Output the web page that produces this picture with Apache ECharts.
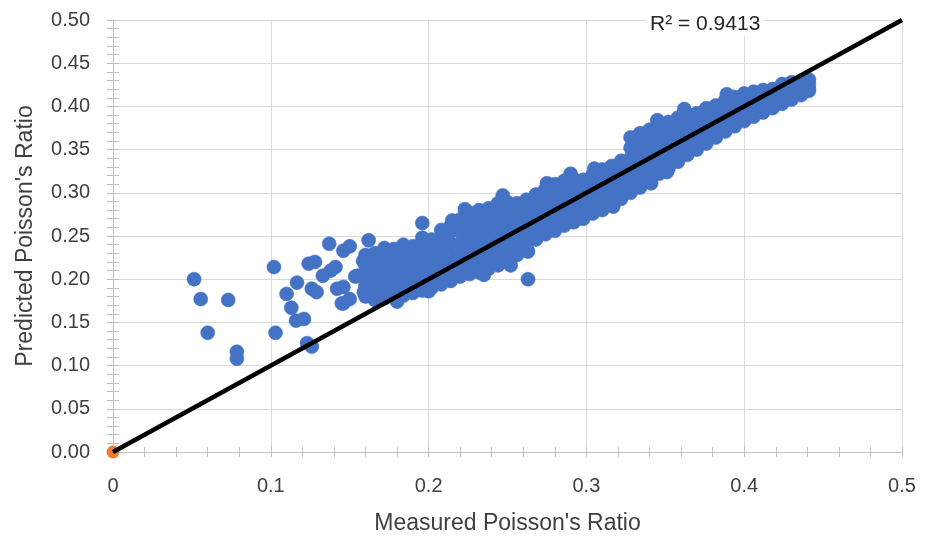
<!DOCTYPE html>
<html>
<head>
<meta charset="utf-8">
<script src="https://cdn.jsdelivr.net/npm/echarts@6/dist/echarts.min.js"></script>
<style>
  html, body { margin: 0; padding: 0; background: #fff; }
  #chart { width: 931px; height: 540px; }
</style>
</head>
<body>
<div id="chart"></div>
<script>
// ---- data ----
const xTickLabels = ['0', '0.1', '0.2', '0.3', '0.4', '0.5'];
const yTickLabels = ['0.00', '0.05', '0.10', '0.15', '0.20', '0.25', '0.30', '0.35', '0.40', '0.45', '0.50'];
const xTitle = "Measured Poisson's Ratio";
const yTitle = "Predicted Poisson's Ratio";
const r2Label = 'R\u00B2 = 0.9413';

// scattered points at the low end of the range and along the band edges
const outlierPoints = [
  [0.0514, 0.200], [0.0556, 0.177], [0.073, 0.176], [0.060, 0.138], [0.0785, 0.116], [0.0785, 0.108],
  [0.102, 0.214], [0.103, 0.138], [0.110, 0.183], [0.113, 0.167], [0.1166, 0.196], [0.116, 0.152],
  [0.121, 0.154], [0.123, 0.126], [0.126, 0.122], [0.124, 0.218], [0.128, 0.220], [0.126, 0.189],
  [0.129, 0.185], [0.133, 0.204], [0.138, 0.210], [0.141, 0.214], [0.137, 0.241], [0.146, 0.233],
  [0.150, 0.238], [0.142, 0.189], [0.146, 0.191], [0.1535, 0.203], [0.146, 0.172], [0.150, 0.177],
  [0.155, 0.204], [0.1585, 0.221], [0.159, 0.185], [0.145, 0.172], [0.162, 0.245], [0.196, 0.265],
  [0.223, 0.281], [0.263, 0.232], [0.263, 0.200],
  [0.215, 0.268], [0.247, 0.297], [0.275, 0.311], [0.290, 0.322], [0.305, 0.328], [0.345, 0.384],
  [0.362, 0.397], [0.389, 0.414], [0.235, 0.205], [0.252, 0.216], [0.317, 0.284], [0.341, 0.311],
  [0.351, 0.324], [0.180, 0.174], [0.200, 0.186]
];

// dense band: measured value with the predicted values read at that column
const bandColumns = [
  [0.160, [0.180, 0.192, 0.204, 0.216, 0.228]],
  [0.166, [0.176, 0.182, 0.194, 0.206, 0.218, 0.230]],
  [0.172, [0.178, 0.190, 0.203, 0.215, 0.227, 0.236]],
  [0.178, [0.180, 0.187, 0.199, 0.211, 0.223, 0.235]],
  [0.184, [0.181, 0.193, 0.206, 0.218, 0.230, 0.240]],
  [0.190, [0.184, 0.190, 0.202, 0.214, 0.226, 0.238]],
  [0.196, [0.187, 0.199, 0.211, 0.223, 0.236, 0.248]],
  [0.202, [0.190, 0.196, 0.208, 0.220, 0.233, 0.246]],
  [0.208, [0.194, 0.206, 0.218, 0.231, 0.244, 0.257]],
  [0.214, [0.198, 0.204, 0.216, 0.229, 0.242, 0.255, 0.262]],
  [0.220, [0.203, 0.215, 0.228, 0.241, 0.255, 0.269]],
  [0.226, [0.206, 0.212, 0.225, 0.238, 0.251, 0.265, 0.277]],
  [0.232, [0.208, 0.221, 0.234, 0.247, 0.261, 0.274, 0.280]],
  [0.238, [0.212, 0.218, 0.231, 0.244, 0.257, 0.270, 0.282]],
  [0.244, [0.216, 0.229, 0.242, 0.255, 0.268, 0.280, 0.288]],
  [0.250, [0.221, 0.227, 0.240, 0.253, 0.265, 0.277, 0.289]],
  [0.256, [0.228, 0.240, 0.252, 0.264, 0.276, 0.288]],
  [0.262, [0.236, 0.242, 0.253, 0.264, 0.275, 0.286, 0.292]],
  [0.268, [0.246, 0.256, 0.266, 0.277, 0.288, 0.298]],
  [0.274, [0.252, 0.257, 0.267, 0.278, 0.289, 0.299, 0.304]],
  [0.280, [0.256, 0.266, 0.277, 0.288, 0.299, 0.310]],
  [0.286, [0.262, 0.267, 0.277, 0.288, 0.299, 0.309, 0.314]],
  [0.292, [0.266, 0.276, 0.287, 0.297, 0.307, 0.316]],
  [0.298, [0.270, 0.276, 0.286, 0.296, 0.306, 0.315]],
  [0.304, [0.276, 0.286, 0.296, 0.305, 0.314, 0.321]],
  [0.310, [0.280, 0.285, 0.295, 0.305, 0.315, 0.323, 0.327]],
  [0.316, [0.285, 0.295, 0.305, 0.314, 0.323, 0.331]],
  [0.322, [0.293, 0.298, 0.307, 0.316, 0.325, 0.333, 0.337]],
  [0.328, [0.300, 0.310, 0.320, 0.330, 0.340, 0.352, 0.364]],
  [0.334, [0.306, 0.311, 0.321, 0.331, 0.341, 0.352, 0.363, 0.369]],
  [0.340, [0.315, 0.325, 0.335, 0.345, 0.355, 0.364, 0.373]],
  [0.346, [0.322, 0.327, 0.336, 0.346, 0.355, 0.364, 0.373, 0.378]],
  [0.352, [0.328, 0.337, 0.347, 0.356, 0.365, 0.374, 0.382]],
  [0.358, [0.336, 0.341, 0.350, 0.359, 0.368, 0.376, 0.384, 0.387]],
  [0.364, [0.344, 0.352, 0.361, 0.369, 0.377, 0.385, 0.391]],
  [0.370, [0.350, 0.354, 0.362, 0.370, 0.378, 0.386, 0.392]],
  [0.376, [0.357, 0.365, 0.373, 0.381, 0.388, 0.394, 0.398]],
  [0.382, [0.364, 0.368, 0.376, 0.384, 0.391, 0.398, 0.401]],
  [0.388, [0.371, 0.379, 0.386, 0.393, 0.400, 0.407]],
  [0.394, [0.377, 0.381, 0.389, 0.396, 0.402, 0.408, 0.411]],
  [0.400, [0.383, 0.390, 0.397, 0.404, 0.410, 0.415]],
  [0.406, [0.388, 0.392, 0.399, 0.406, 0.412, 0.417]],
  [0.412, [0.393, 0.400, 0.407, 0.413, 0.419]],
  [0.418, [0.398, 0.402, 0.408, 0.414, 0.420]],
  [0.424, [0.403, 0.410, 0.416, 0.421, 0.426]],
  [0.430, [0.408, 0.411, 0.417, 0.423, 0.428]],
  [0.436, [0.413, 0.419, 0.424, 0.429]],
  [0.441, [0.418, 0.420, 0.426, 0.431]]
];

const originPoint = [[0, 0]];
const fitLine = [[0, 0], [0.5, 0.5]];

// ---- build chart ----
const bandPoints = [];
bandColumns.forEach(function (col) {
  col[1].forEach(function (y) { bandPoints.push([col[0], y]); });
});
const measuredPoints = outlierPoints.concat(bandPoints);

const FONT = '"Liberation Sans", Arial, sans-serif';
const TEXT_COLOR = '#404040';
const AXIS_COLOR = '#bfbfbf';
const GRID_COLOR = '#d9d9d9';

function baseAxis(extra) {
  return Object.assign({
    type: 'value', min: 0, max: 0.5, gridIndex: 0
  }, extra);
}

const chart = echarts.init(document.getElementById('chart'), null, { renderer: 'canvas' });
chart.setOption({
  animation: false,
  backgroundColor: '#ffffff',
  grid: { left: 113, right: 29, top: 20, bottom: 86, containLabel: false },
  xAxis: [
    baseAxis({
      interval: 0.1,
      position: 'bottom',
      name: xTitle,
      nameLocation: 'middle',
      nameGap: 60,
      nameTextStyle: { fontFamily: FONT, fontSize: 23, color: TEXT_COLOR },
      axisLine: { show: true, lineStyle: { color: AXIS_COLOR, width: 1 } },
      axisTick: { show: true, inside: false, length: 5, lineStyle: { color: AXIS_COLOR } },
      minorTick: { show: true, splitNumber: 5, length: 5, lineStyle: { color: AXIS_COLOR } },
      axisLabel: {
        margin: 24, fontFamily: FONT, fontSize: 20, color: TEXT_COLOR,
        formatter: function (v, i) { return xTickLabels[Math.round(v / 0.1)]; }
      },
      splitLine: { show: true, lineStyle: { color: GRID_COLOR, width: 1 } }
    }),
    baseAxis({
      interval: 0.1,
      position: 'bottom',
      axisLine: { show: false },
      axisTick: { show: true, inside: true, length: 5, lineStyle: { color: AXIS_COLOR } },
      minorTick: { show: true, splitNumber: 5, length: 5, lineStyle: { color: AXIS_COLOR } },
      axisLabel: { show: false },
      splitLine: { show: false }
    })
  ],
  yAxis: [
    baseAxis({
      interval: 0.05,
      position: 'left',
      name: yTitle,
      nameLocation: 'middle',
      nameGap: 76,
      nameTextStyle: { fontFamily: FONT, fontSize: 23, color: TEXT_COLOR },
      axisLine: { show: true, lineStyle: { color: AXIS_COLOR, width: 1 } },
      axisTick: { show: true, inside: false, length: 6, lineStyle: { color: AXIS_COLOR } },
      minorTick: { show: true, splitNumber: 5, length: 6, lineStyle: { color: AXIS_COLOR } },
      axisLabel: {
        margin: 23, fontFamily: FONT, fontSize: 20, color: TEXT_COLOR,
        formatter: function (v) { return yTickLabels[Math.round(v / 0.05)]; }
      },
      splitLine: { show: true, lineStyle: { color: GRID_COLOR, width: 1 } }
    }),
    baseAxis({
      interval: 0.05,
      position: 'left',
      axisLine: { show: false },
      axisTick: { show: true, inside: true, length: 6, lineStyle: { color: AXIS_COLOR } },
      minorTick: { show: true, splitNumber: 5, length: 6, lineStyle: { color: AXIS_COLOR } },
      axisLabel: { show: false },
      splitLine: { show: false }
    })
  ],
  graphic: [{
    type: 'text',
    left: 646,
    top: 13,
    z: 10,
    style: {
      text: r2Label, fontFamily: FONT, fontSize: 21, fill: '#262626',
      backgroundColor: '#ffffff', padding: [1, 4, 1, 4]
    }
  }],
  series: [
    {
      name: 'Predicted',
      type: 'scatter',
      xAxisIndex: 0, yAxisIndex: 0,
      symbol: 'circle',
      symbolSize: 14,
      clip: false,
      itemStyle: { color: '#4472C4', borderColor: '#4472C4', borderWidth: 0.6, opacity: 1 },
      data: measuredPoints,
      z: 3
    },
    {
      name: 'Origin',
      type: 'scatter',
      xAxisIndex: 0, yAxisIndex: 0,
      symbol: 'circle',
      symbolSize: 13,
      clip: false,
      itemStyle: { color: '#ED7D31', opacity: 1 },
      data: originPoint,
      z: 4
    },
    {
      name: 'Line of equality',
      type: 'line',
      xAxisIndex: 0, yAxisIndex: 0,
      showSymbol: false,
      symbol: 'none',
      clip: false,
      lineStyle: { color: '#000000', width: 4.5 },
      data: fitLine,
      z: 5
    }
  ]
});
</script>
</body>
</html>
